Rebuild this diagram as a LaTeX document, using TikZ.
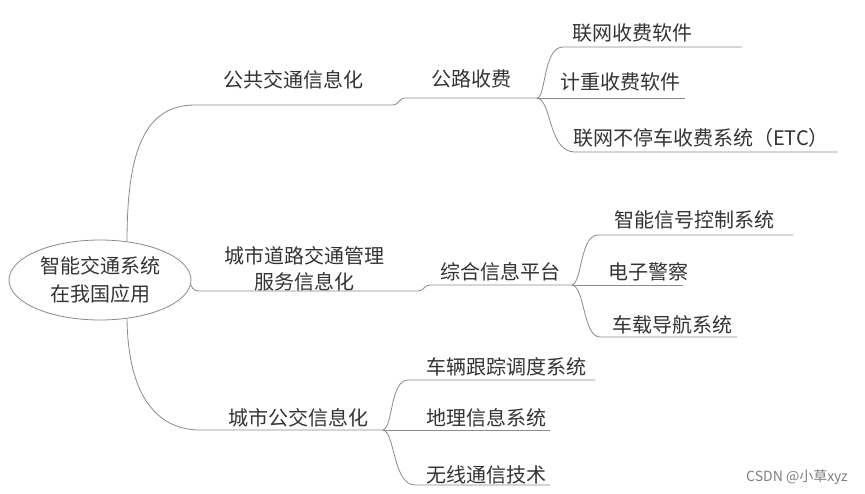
\documentclass[tikz,border=0pt]{standalone}
\usepackage{fontspec}
\setmainfont{Noto Sans CJK SC}
\usetikzlibrary{shapes.geometric}
\definecolor{txt}{HTML}{333333}
\definecolor{ln}{HTML}{8A8A8A}
\begin{document}
\begin{tikzpicture}[x=1pt,y=-1pt,
  lbl/.style={font=\fontsize{20}{26}\selectfont, text=txt, inner sep=0pt, align=center},
  conn/.style={draw=ln, line width=0.8pt},
  wmark/.style={font=\fontsize{14}{16}\selectfont, text=gray, inner sep=0pt}]
\useasboundingbox[fill=white] (0,0) rectangle (865,493);
% root
\node[ellipse, draw=ln, line width=0.8pt, minimum width=182pt, minimum height=80pt,
      lbl, font=\fontsize{20}{28}\selectfont] (root) at (100,280) {智能交通系统\\在我国应用};
% level 1
\node[lbl] (n1) at (293,80) {公共交通信息化};
\node[lbl] (n2) at (304,269) {城市道路交通管理\\服务信息化};
\node[lbl] (n3) at (298,418) {城市公交信息化};
% level 2
\node[lbl] (a) at (471,79) {公路收费};
\node[lbl] (b) at (500,272) {综合信息平台};
% leaves
\node[lbl] (a1) at (632,33) {联网收费软件};
\node[lbl] (a2) at (620,82) {计重收费软件};
\node[lbl] (a3) at (701,138) {联网不停车收费系统（ETC）};
\node[lbl] (b1) at (694,220) {智能信号控制系统};
\node[lbl] (b2) at (648,272) {电子警察};
\node[lbl] (b3) at (672,325) {车载导航系统};
\node[lbl] (c1) at (506,367) {车辆跟踪调度系统};
\node[lbl] (c2) at (486,418) {地理信息系统};
\node[lbl] (c3) at (486,475) {无线通信技术};
\node[wmark] (wm) at (797,477) {CSDN @小草xyz};
% junction coordinates
\coordinate (p1) at (195,105);
\coordinate (p1b) at (393,105);
\coordinate (p1c) at (405,98);
\coordinate (ja) at (537,98);
\coordinate (a1s) at (563,47);
\coordinate (a1e) at (742,47);
\coordinate (a2e) at (685,98);
\coordinate (a3s) at (575,152);
\coordinate (a3e) at (838,152);
\coordinate (p2) at (200,291);
\coordinate (p2b) at (418,291);
\coordinate (p2c) at (430,285);
\coordinate (jb) at (572,285);
\coordinate (b1s) at (598,235);
\coordinate (b1e) at (793,235);
\coordinate (b2e) at (683,285);
\coordinate (b3s) at (600,337);
\coordinate (b3e) at (737,337);
\coordinate (p3) at (200,430);
\coordinate (jc) at (383,430);
\coordinate (c1s) at (408,380);
\coordinate (c1e) at (595,380);
\coordinate (c2e) at (550,430);
\coordinate (c3s) at (415,485);
\coordinate (c3e) at (550,485);
% branch 1
\draw[conn] (root.55) .. controls (127,150) and (145,105) .. (p1) -- (p1b)
  .. controls (399,105) and (399,98) .. (p1c) -- (ja);
\draw[conn] (ja) .. controls (546,98) and (543,47) .. (a1s) -- (a1e);
\draw[conn] (ja) -- (a2e);
\draw[conn] (ja) .. controls (552,100) and (548,152) .. (a3s) -- (a3e);
% branch 2
\draw[conn] (root.-3) .. controls (193,290) and (195,291) .. (p2) -- (p2b)
  .. controls (424,291) and (424,285) .. (p2c) -- (jb);
\draw[conn] (jb) .. controls (582,283) and (580,235) .. (b1s) -- (b1e);
\draw[conn] (jb) -- (b2e);
\draw[conn] (jb) .. controls (585,287) and (583,337) .. (b3s) -- (b3e);
% branch 3
\draw[conn] (root.-55) .. controls (128,400) and (160,430) .. (p3) -- (jc);
\draw[conn] (jc) .. controls (393,428) and (390,380) .. (c1s) -- (c1e);
\draw[conn] (jc) -- (c2e);
\draw[conn] (jc) .. controls (395,432) and (393,485) .. (c3s) -- (c3e);
\end{tikzpicture}
\end{document}
